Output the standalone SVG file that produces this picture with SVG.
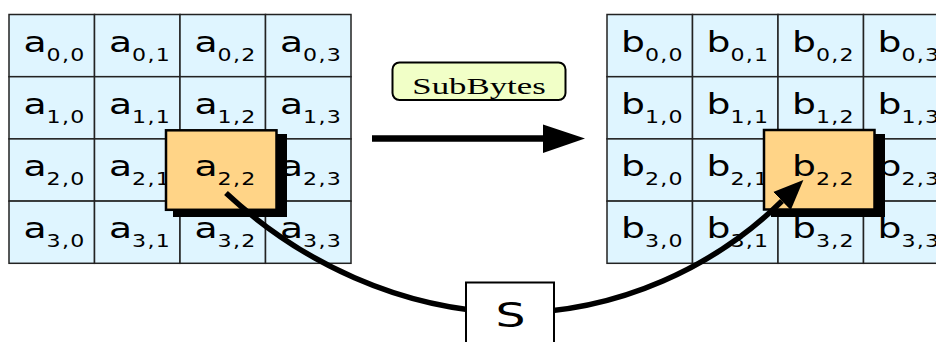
<svg xmlns="http://www.w3.org/2000/svg" width="936" height="342" viewBox="0 0 936 342">
<style>
.cell{fill:#dff5ff;stroke:#222;stroke-width:1.5}
.t{font-family:"DejaVu Sans",sans-serif;font-size:29px;fill:#000;text-anchor:middle}
.sub{font-size:17px;letter-spacing:1px}
.hl{fill:#ffd487;stroke:#000;stroke-width:2.5}
.sh{fill:#000}
.conn{fill:none;stroke:#000;stroke-width:5.5}
</style>
<defs>
<marker id="ah" markerUnits="userSpaceOnUse" markerWidth="30" markerHeight="30" refX="0" refY="10" orient="auto" viewBox="0 0 24 20">
<path d="M0,0 L24,10 L0,20 Z" fill="#000"/>
</marker>
</defs>
<rect width="936" height="342" fill="#fff"/>
<g id="stateA">
<rect class="cell" x="9" y="14.5" width="85.5" height="62.2"/>
<rect class="cell" x="94.5" y="14.5" width="85.5" height="62.2"/>
<rect class="cell" x="180" y="14.5" width="85.5" height="62.2"/>
<rect class="cell" x="265.5" y="14.5" width="85.5" height="62.2"/>
<rect class="cell" x="9" y="76.7" width="85.5" height="62.2"/>
<rect class="cell" x="94.5" y="76.7" width="85.5" height="62.2"/>
<rect class="cell" x="180" y="76.7" width="85.5" height="62.2"/>
<rect class="cell" x="265.5" y="76.7" width="85.5" height="62.2"/>
<rect class="cell" x="9" y="138.9" width="85.5" height="62.2"/>
<rect class="cell" x="94.5" y="138.9" width="85.5" height="62.2"/>
<rect class="cell" x="180" y="138.9" width="85.5" height="62.2"/>
<rect class="cell" x="265.5" y="138.9" width="85.5" height="62.2"/>
<rect class="cell" x="9" y="201.1" width="85.5" height="62.2"/>
<rect class="cell" x="94.5" y="201.1" width="85.5" height="62.2"/>
<rect class="cell" x="180" y="201.1" width="85.5" height="62.2"/>
<rect class="cell" x="265.5" y="201.1" width="85.5" height="62.2"/>
<text class="t" transform="translate(54.5,51.7) scale(1.3,1)">a<tspan class="sub" dy="9">0,0</tspan></text>
<text class="t" transform="translate(140,51.7) scale(1.3,1)">a<tspan class="sub" dy="9">0,1</tspan></text>
<text class="t" transform="translate(225.5,51.7) scale(1.3,1)">a<tspan class="sub" dy="9">0,2</tspan></text>
<text class="t" transform="translate(311,51.7) scale(1.3,1)">a<tspan class="sub" dy="9">0,3</tspan></text>
<text class="t" transform="translate(54.5,113.9) scale(1.3,1)">a<tspan class="sub" dy="9">1,0</tspan></text>
<text class="t" transform="translate(140,113.9) scale(1.3,1)">a<tspan class="sub" dy="9">1,1</tspan></text>
<text class="t" transform="translate(225.5,113.9) scale(1.3,1)">a<tspan class="sub" dy="9">1,2</tspan></text>
<text class="t" transform="translate(311,113.9) scale(1.3,1)">a<tspan class="sub" dy="9">1,3</tspan></text>
<text class="t" transform="translate(54.5,176.1) scale(1.3,1)">a<tspan class="sub" dy="9">2,0</tspan></text>
<text class="t" transform="translate(140,176.1) scale(1.3,1)">a<tspan class="sub" dy="9">2,1</tspan></text>
<text class="t" transform="translate(311,176.1) scale(1.3,1)">a<tspan class="sub" dy="9">2,3</tspan></text>
<text class="t" transform="translate(54.5,238.3) scale(1.3,1)">a<tspan class="sub" dy="9">3,0</tspan></text>
<text class="t" transform="translate(140,238.3) scale(1.3,1)">a<tspan class="sub" dy="9">3,1</tspan></text>
<text class="t" transform="translate(225.5,238.3) scale(1.3,1)">a<tspan class="sub" dy="9">3,2</tspan></text>
<text class="t" transform="translate(311,238.3) scale(1.3,1)">a<tspan class="sub" dy="9">3,3</tspan></text>
</g>
<g id="a22">
<rect class="sh" x="173" y="134" width="114" height="83"/>
<rect class="hl" x="166" y="130.3" width="110.5" height="79.5"/>
<text class="t" transform="translate(225.5,176.1) scale(1.3,1)">a<tspan class="sub" dy="9">2,2</tspan></text>
</g>
<g id="stateB">
<rect class="cell" x="607" y="14.5" width="85.5" height="62.2"/>
<rect class="cell" x="692.5" y="14.5" width="85.5" height="62.2"/>
<rect class="cell" x="778" y="14.5" width="85.5" height="62.2"/>
<rect class="cell" x="863.5" y="14.5" width="85.5" height="62.2"/>
<rect class="cell" x="607" y="76.7" width="85.5" height="62.2"/>
<rect class="cell" x="692.5" y="76.7" width="85.5" height="62.2"/>
<rect class="cell" x="778" y="76.7" width="85.5" height="62.2"/>
<rect class="cell" x="863.5" y="76.7" width="85.5" height="62.2"/>
<rect class="cell" x="607" y="138.9" width="85.5" height="62.2"/>
<rect class="cell" x="692.5" y="138.9" width="85.5" height="62.2"/>
<rect class="cell" x="778" y="138.9" width="85.5" height="62.2"/>
<rect class="cell" x="863.5" y="138.9" width="85.5" height="62.2"/>
<rect class="cell" x="607" y="201.1" width="85.5" height="62.2"/>
<rect class="cell" x="692.5" y="201.1" width="85.5" height="62.2"/>
<rect class="cell" x="778" y="201.1" width="85.5" height="62.2"/>
<rect class="cell" x="863.5" y="201.1" width="85.5" height="62.2"/>
<text class="t" transform="translate(652.5,51.7) scale(1.3,1)">b<tspan class="sub" dy="9">0,0</tspan></text>
<text class="t" transform="translate(738,51.7) scale(1.3,1)">b<tspan class="sub" dy="9">0,1</tspan></text>
<text class="t" transform="translate(823.5,51.7) scale(1.3,1)">b<tspan class="sub" dy="9">0,2</tspan></text>
<text class="t" transform="translate(909,51.7) scale(1.3,1)">b<tspan class="sub" dy="9">0,3</tspan></text>
<text class="t" transform="translate(652.5,113.9) scale(1.3,1)">b<tspan class="sub" dy="9">1,0</tspan></text>
<text class="t" transform="translate(738,113.9) scale(1.3,1)">b<tspan class="sub" dy="9">1,1</tspan></text>
<text class="t" transform="translate(823.5,113.9) scale(1.3,1)">b<tspan class="sub" dy="9">1,2</tspan></text>
<text class="t" transform="translate(909,113.9) scale(1.3,1)">b<tspan class="sub" dy="9">1,3</tspan></text>
<text class="t" transform="translate(652.5,176.1) scale(1.3,1)">b<tspan class="sub" dy="9">2,0</tspan></text>
<text class="t" transform="translate(738,176.1) scale(1.3,1)">b<tspan class="sub" dy="9">2,1</tspan></text>
<text class="t" transform="translate(909,176.1) scale(1.3,1)">b<tspan class="sub" dy="9">2,3</tspan></text>
<text class="t" transform="translate(652.5,238.3) scale(1.3,1)">b<tspan class="sub" dy="9">3,0</tspan></text>
<text class="t" transform="translate(738,238.3) scale(1.3,1)">b<tspan class="sub" dy="9">3,1</tspan></text>
<text class="t" transform="translate(823.5,238.3) scale(1.3,1)">b<tspan class="sub" dy="9">3,2</tspan></text>
<text class="t" transform="translate(909,238.3) scale(1.3,1)">b<tspan class="sub" dy="9">3,3</tspan></text>
</g>
<g id="b22">
<rect class="sh" x="771" y="134" width="114" height="83"/>
<rect class="hl" x="764" y="130" width="110.5" height="79.5"/>
<text class="t" transform="translate(823.5,176.1) scale(1.3,1)">b<tspan class="sub" dy="9">2,2</tspan></text>
</g>
<g id="subbytes">
<rect x="392.5" y="62.5" width="173" height="37.5" rx="7" ry="7" fill="#f1ffc7" stroke="#000" stroke-width="2"/>
<text transform="translate(479,93.5) scale(1.45,1)" text-anchor="middle" font-family="Liberation Serif,serif" font-size="24">SubBytes</text>
</g>
<g id="connectors">
<line x1="372" y1="138.5" x2="546" y2="138.5" stroke="#000" stroke-width="6.5"/>
<path d="M543,124.5 L585,138.5 L543,153 Z" fill="#000"/>
<path class="conn" d="M226,193 C300,262 400,310 510,313 C620,313 717,265 782,201" marker-end="url(#ah)"/>
</g>
<g id="sbox">
<rect x="466" y="282.5" width="88" height="70" fill="#fff" stroke="#000" stroke-width="2"/>
<text class="t" style="font-size:34px" transform="translate(510.5,327.3) scale(1.39,1)">S</text>
</g>
</svg>
